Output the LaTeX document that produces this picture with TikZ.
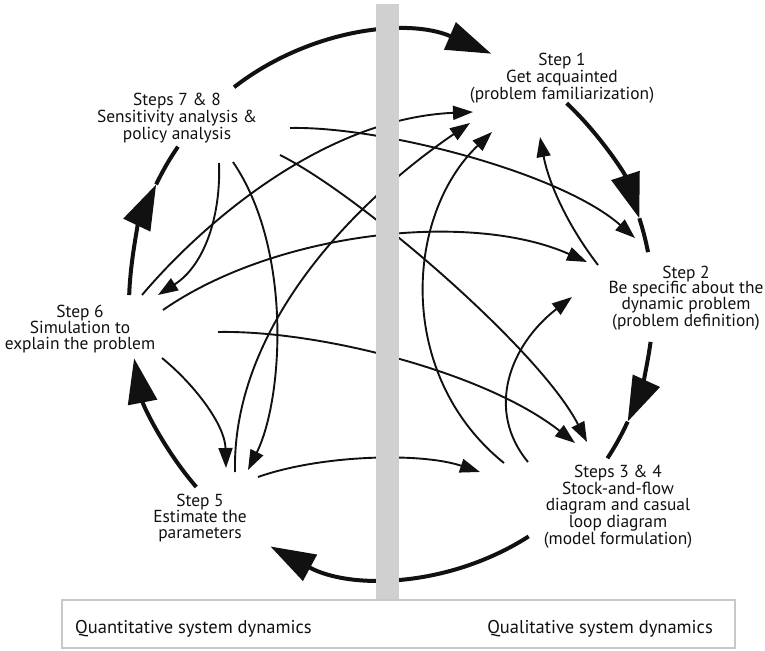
\documentclass[tikz,border=0pt]{standalone}
\usepackage{fontspec}
\setmainfont{PT Sans}
\usetikzlibrary{arrows.meta}
\definecolor{barGray}{RGB}{208,208,208}
\definecolor{frameGray}{RGB}{200,200,200}
\definecolor{ink}{RGB}{17,17,17}
\begin{document}
\begin{tikzpicture}[x=1pt,y=1pt,yscale=-1,
  steptext/.style={align=center, font=\fontsize{17.4}{15.8}\selectfont, text=ink, inner sep=0pt},
  legendtext/.style={font=\fontsize{18.5}{20}\selectfont, text=ink, inner sep=0pt},
  cyclearrow/.style={line width=4pt, draw=ink, -{Triangle[length=45pt,width=29pt]}},
  cycleline/.style={line width=4pt, draw=ink},
  link/.style={line width=1.9pt, draw=ink, -{Triangle[length=20pt,width=14pt]}},
]
\useasboundingbox (0,0) rectangle (765,650);

% step labels
\node[steptext] (s1)  at (562,78)  {Step 1\\Get acquainted\\(problem familiarization)};
\node[steptext] (s2)  at (686,298) {Step 2\\Be specific about the\\dynamic problem\\(problem definition)};
\node[steptext] (s34) at (618,507) {Steps 3 \& 4\\Stock-and-flow\\diagram and casual\\loop diagram\\(model formulation)};
\node[steptext] (s5)  at (200,518) {Step 5\\Estimate the\\parameters};
\node[steptext] (s6)  at (80,329)  {Step 6\\Simulation to\\explain the problem};
\node[steptext] (s78) at (177,118) {Steps 7 \& 8\\Sensitivity analysis \&\\policy analysis};

% main cycle: elliptical arcs around a common centre
\coordinate (ctr) at (391,305);
\path (ctr) ++(-126.8:262pt and 272pt) coordinate (c78a);
\path (ctr) ++(-47.9:262pt and 272pt)  coordinate (c1a);
\path (ctr) ++(-18.6:262pt and 272pt)  coordinate (c1t);
\path (ctr) ++(7.8:262pt and 272pt)    coordinate (c2a);
\path (ctr) ++(25.4:262pt and 272pt)   coordinate (c2t);
\path (ctr) ++(58.3:262pt and 272pt)   coordinate (c34a);
\path (ctr) ++(138:262pt and 272pt)    coordinate (c5a);
\path (ctr) ++(182.1:262pt and 272pt)  coordinate (c6a);
\path (ctr) ++(206.3:262pt and 272pt)  coordinate (c6t);

\draw[cyclearrow] (c78a) arc[start angle=-126.8, end angle=-67.5, x radius=262pt, y radius=272pt];
\draw[cyclearrow] (c1a)  arc[start angle=-47.9, end angle=-18.6, x radius=262pt, y radius=272pt];
\draw[cycleline]  (c1t)  arc[start angle=-18.6, end angle=-11.2, x radius=262pt, y radius=272pt];
\draw[cyclearrow] (c2a)  arc[start angle=7.8, end angle=25.4, x radius=262pt, y radius=272pt];
\draw[cycleline]  (c2t)  arc[start angle=25.4, end angle=34.3, x radius=262pt, y radius=272pt];
\draw[cyclearrow] (c34a) arc[start angle=58.3, end angle=117.4, x radius=262pt, y radius=272pt];
\draw[cyclearrow] (c5a)  arc[start angle=138, end angle=168.7, x radius=262pt, y radius=272pt];
\draw[cyclearrow] (c6a)  arc[start angle=182.1, end angle=206.3, x radius=262pt, y radius=272pt];
\draw[cycleline]  (c6t)  arc[start angle=206.3, end angle=215.6, x radius=262pt, y radius=272pt];

% ends of the feedback links
\coordinate (s6o1) at (142,295);  \coordinate (s1i1) at (473,112);
\coordinate (s6o2) at (163,310);  \coordinate (s2i1) at (587,262);
\coordinate (s6o3) at (218,332);  \coordinate (s34i1) at (575,443);
\coordinate (s6o4) at (162,358);  \coordinate (s5i1) at (226,468);
\coordinate (s78o1) at (219,163); \coordinate (s6i1) at (158,295);
\coordinate (s78o2) at (233,162); \coordinate (s5i2) at (248,470);
\coordinate (s78o3) at (290,128); \coordinate (s2i2) at (635,238);
\coordinate (s78o4) at (280,155); \coordinate (s34i2) at (587,442);
\coordinate (s5o1) at (235,472);  \coordinate (s1i2) at (470,123);
\coordinate (s5o2) at (258,477);  \coordinate (s34i3) at (480,472);
\coordinate (s34o1) at (504,463); \coordinate (s1i3) at (492,132);
\coordinate (s34o2) at (528,462); \coordinate (s2i3) at (572,297);
\coordinate (s2o1) at (598,265);  \coordinate (s1i4) at (540,137);

% feedback links
\draw[link] (s6o1) .. controls (210,215) and (330,118) .. (s1i1);
\draw[link] (s6o2) .. controls (275,232) and (470,210) .. (s2i1);
\draw[link] (s6o3) .. controls (318,330) and (485,372) .. (s34i1);
\draw[link] (s6o4) .. controls (195,385) and (225,425) .. (s5i1);
\draw[link] (s78o1) .. controls (221,215) and (205,265) .. (s6i1);
\draw[link] (s78o2) .. controls (293,250) and (283,400) .. (s5i2);
\draw[link] (s78o3) .. controls (380,126) and (560,172) .. (s2i2);
\draw[link] (s78o4) .. controls (360,195) and (540,350) .. (s34i2);
\draw[link] (s5o1) .. controls (232,330) and (350,205) .. (s1i2);
\draw[link] (s5o2) .. controls (320,455) and (420,452) .. (s34i3);
\draw[link] (s34o1) .. controls (395,375) and (405,215) .. (s1i3);
\draw[link] (s34o2) .. controls (485,410) and (510,345) .. (s2i3);
\draw[link] (s2o1) .. controls (565,222) and (548,180) .. (s1i4);

% divider between the two halves
\fill[barGray] (376,4) rectangle (399,600);

% legend strip
\node[draw=frameGray, line width=2pt, fill=white, minimum width=673pt, minimum height=48pt, inner sep=0pt] (legend) at (398.5,624) {};
\node[legendtext, anchor=west] (quant) at (75,629) {Quantitative system dynamics};
\node[legendtext, anchor=east] (qual) at (713,629) {Qualitative system dynamics};
\end{tikzpicture}
\end{document}
